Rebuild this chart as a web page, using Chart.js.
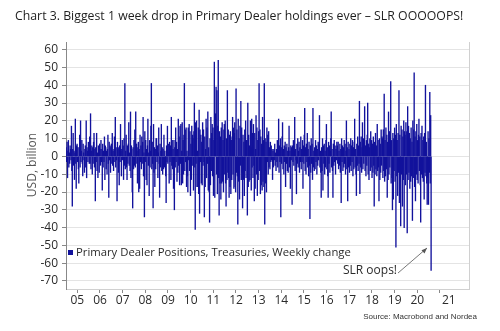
<!DOCTYPE html>
<html lang="en">
<head>
<meta charset="UTF-8">
<title>Primary Dealer holdings</title>
<style>
    html, body { margin: 0; padding: 0; background: #fff; }
    #wrap { position: relative; width: 500px; height: 331px; }
</style>
</head>
<body>
<div id="wrap"><canvas id="myChart" width="500" height="331"></canvas></div>

<script src="https://cdn.jsdelivr.net/npm/chart.js"></script>
<script>
    // weekly change in primary dealer Treasury positions, USD bn
    const w2005 = [5, -3, 8, -12, 3, 9, -6, 2, -4, 6, 4, -2, 17, -8, -28, 4, 13, -5, 3, -13, 2, 21, -4, -18, 6, 7, -3, 5, -7, -15, 5, 12, -6, 20, -3, 3, 9, -4, -11, 7, 2, -2, -9, 4, 6, -6, 20, -12, 5, 3, -3, 8];
    const w2006 = [6, -4, 11, -4, 24, -7, 3, 6, -10, 5, -4, 8, 13, -6, 4, -25, 5, -3, 13, -8, 2, -12, 6, 2, -9, 7, 4, -5, 9, -3, 4, -19, 7, -6, 3, -3, 11, -13, 6, 5, -7, 3, -10, 4, 12, -4, -23, 8, -2, 6, -9, 5];
    const w2007 = [7, -4, 13, -5, 3, -8, 4, 11, -3, 22, -6, 5, -2, -25, 8, 4, -9, 5, -16, 6, -3, 18, 3, -11, 4, 9, -2, 6, -13, 10, -5, 41, -7, 3, 12, -6, -13, 6, -4, 7, 19, -5, 2, -8, 25, -12, 6, 4, -20, -29, 5, -7];
    const w2008 = [9, -5, 15, -6, 25, -4, 7, 3, -15, 5, 8, -20, 4, -18, 12, -3, 6, -7, 11, -4, 8, 22, -11, 2, -34, 14, -3, 9, -13, 4, -16, 6, 21, -5, 2, -22, 9, -6, 3, 17, 41, -7, 8, -4, -29, 18, -9, 5, -17, 4, -7, 10];
    const w2009 = [10, -3, 6, -12, 2, 16, -4, -23, 7, -6, 3, 18, -8, 5, -10, 4, -7, 12, -6, 3, -5, -11, -26, 6, -3, 17, -4, 7, 2, -15, 8, -3, 6, -13, 22, -5, 9, -7, 4, -18, 9, -30, 5, -6, 16, -3, 8, -14, 4, -9, 21, -5];
    const w2010 = [11, -16, 17, -4, 18, -16, 3, 19, -15, 9, -10, 12, 41, -8, 15, -3, 16, -17, 3, -11, -20, 16, -2, 18, -8, 14, -22, 7, -13, 17, -5, 12, 10, -19, 14, 30, -6, -41, 19, -4, 20, -17, 3, -17, 16, -21, 26, -32, 15, -3, 12, -15];
    const w2011 = [8, -16, 19, -5, 15, -3, -34, 11, -17, 4, 21, -12, 16, -4, 25, -19, 5, -20, -37, 10, -16, 22, -8, 13, 18, -11, 16, -22, 9, 53, -23, 14, 24, 39, -10, 37, -21, 17, 54, -12, -33, 14, -15, 11, -24, 16, -15, 19, -14, 9, -20, 15];
    const w2012 = [18, -10, 20, -15, -28, 10, -13, 37, -9, 15, -12, -23, 12, -17, 14, -21, 9, -13, 11, 22, -10, 16, -18, 13, 19, -17, -20, 38, -9, 15, -11, -38, 21, -14, 10, -24, 17, -5, 31, -13, 16, -9, -29, 12, -13, 8, -22, 15, -8, 20, -12, 9];
    const w2013 = [9, -33, 30, -17, 12, -14, 6, -13, 20, 5, -19, 21, -6, 13, -12, 18, -5, -25, 13, -18, 4, 23, -10, 16, -22, 9, -13, 14, 41, -8, 15, -21, 11, -16, 7, -19, 22, -14, 9, -17, 41, -38, 10, -15, 8, -20, 16, -3, 12, -10, 14, -6];
    const w2014 = [5, -7, 8, -3, 6, -2, 4, -13, 3, -6, 4, -2, 7, -5, 2, -8, 4, -3, 9, -6, 4, 21, -9, 6, -3, 10, -34, 5, -4, 11, 19, -7, 4, -10, 6, -3, 8, -17, 5, -4, 7, -8, 3, -9, 5, 17, -6, 3, -18, 6, -2, 5];
    const w2015 = [-27, 6, -3, 9, -5, 3, 22, -8, 4, -2, -21, 7, -4, 10, -6, 3, 8, -9, 5, -3, 11, -7, 4, -3, 9, -18, 6, -4, 12, 27, -8, 5, -10, 7, -3, 13, -6, 4, -11, 8, -5, -35, 6, -9, 10, -4, 7, -13, 27, -6, 3, -8];
    const w2016 = [5, -7, 9, -3, 6, -10, 4, -5, 8, -2, 7, 23, -6, 3, -9, -23, 5, -8, 10, -19, 6, -4, 7, -10, 3, -6, 9, 18, -7, 5, -11, -23, 8, -4, 6, -9, 3, 10, 25, -6, 4, -8, -23, 7, -5, 9, -3, 6, -10, 4, -2, 8];
    const w2017 = [6, -4, 8, -7, 3, -5, 7, -9, 4, -26, 10, -3, 6, -8, 5, -6, 9, -4, 7, -10, 3, 20, -7, 5, -25, 8, -6, 4, -9, 7, -5, 10, -8, 6, -3, 9, -11, 5, -7, 8, 21, -6, 4, -10, -22, 7, -5, 11, -8, 6, -4, 31];
    const w2018 = [-21, 8, -6, 11, -9, 5, 19, -7, 10, -4, 7, 28, -8, 6, -11, 9, -5, 12, 30, -10, 7, -13, 5, 10, -8, 14, -6, 9, -12, 7, -9, 11, -5, -28, 8, -10, 13, -7, 6, -11, 18, -8, 9, -6, -25, 10, -13, 7, -9, 15, -5, 11];
    const w2019 = [10, -12, 15, -8, 35, -14, 9, -11, 16, -7, 12, -23, 8, -13, 25, -10, 14, -6, 11, 42, -15, 9, -12, -30, 13, -24, 10, -8, 16, -14, 12, -51, 18, -11, 9, -22, 13, -9, 37, -26, 12, -14, -39, 17, -10, 15, -28, 11, -13, 20, -40, 14];
    const w2020 = [12, -16, 19, -10, 14, -43, 28, -13, 17, -9, 13, -18, 10, -14, 16, -11, 8, -36, 20, -12, 15, 47, -17, 11, -25, 14, -10, 18, -13, 9, -15, 12, 21, -8, 11, -16, -37, 13, -10, 17, -12, 9, -14, 11, -24, 13, -9, 40, -11, 8, -15, -27];
    const w2021 = [-12, 14, -27, 10, -9, 36, -15, 23, -64];

    const yearLabels = ['05', '06', '07', '08', '09', '10', '11', '12', '13', '14', '15', '16', '17', '18', '19', '20', '21'];
    const yTickValues = [60, 50, 40, 30, 20, 10, 0, -10, -20, -30, -40, -50, -60, -70];
    const firstYear = 2005;
    const xMax = 2022.78;

    const weekly = [].concat(w2005, w2006, w2007, w2008, w2009, w2010, w2011, w2012,
        w2013, w2014, w2015, w2016, w2017, w2018, w2019, w2020, w2021);
    const points = weekly.map((v, i) => ({ x: firstYear + (i + 0.5) * 7 / 365.25, y: v }));

    const navy = '#12129c';
    const txt = '#2b2b2b';

    const decor = {
        id: 'decor',
        beforeDraw(chart) {
            const c = chart.ctx;
            c.save();
            c.fillStyle = '#fff';
            c.fillRect(0, 0, chart.width, chart.height);
            c.restore();
        },
        afterDraw(chart) {
            const c = chart.ctx;
            const a = chart.chartArea;
            const xs = chart.scales.x;
            c.save();

            // right frame line
            c.strokeStyle = '#d0d0d0';
            c.lineWidth = 1;
            c.beginPath();
            c.moveTo(Math.round(a.right) + 0.5, a.top);
            c.lineTo(Math.round(a.right) + 0.5, a.bottom);
            c.stroke();

            // title
            c.fillStyle = '#1e1e1e';
            c.font = '12.3px "Open Sans", sans-serif';
            c.textBaseline = 'middle';
            c.textAlign = 'left';
            c.fillText('Chart 3. Biggest 1 week drop in Primary Dealer holdings ever \u2013 SLR OOOOOPS!', 15, 16);

            // y title
            c.save();
            c.translate(33, 165);
            c.rotate(-Math.PI / 2);
            c.textAlign = 'center';
            c.fillStyle = '#555';
            c.font = '12px "Open Sans", sans-serif';
            c.fillText('USD, billion', 0, 0);
            c.restore();

            // year labels between the ticks
            c.fillStyle = txt;
            c.font = '12px "Open Sans", sans-serif';
            c.textAlign = 'center';
            yearLabels.forEach((lab, i) => {
                const yr = firstYear + i;
                const mid = i === yearLabels.length - 1 ? (yr + xMax) / 2 : yr + 0.5;
                c.fillText(lab, xs.getPixelForValue(mid), 301);
            });

            // legend inside the plot
            c.fillStyle = navy;
            c.fillRect(68, 250, 5, 5);
            c.fillStyle = txt;
            c.textAlign = 'left';
            c.font = '11.3px "Open Sans", sans-serif';
            c.fillText('Primary Dealer Positions, Treasuries, Weekly change', 76, 252.5);

            // annotation
            c.font = '12px "Open Sans", sans-serif';
            c.fillText('SLR oops!', 343, 271);
            c.strokeStyle = '#555';
            c.fillStyle = '#555';
            c.lineWidth = 0.8;
            c.beginPath();
            c.moveTo(398, 273);
            c.lineTo(427, 248);
            c.stroke();
            c.beginPath();
            c.moveTo(427, 248);
            c.lineTo(421.5, 250.2);
            c.lineTo(424.5, 253.6);
            c.closePath();
            c.fill();

            // source
            c.fillStyle = '#333';
            c.font = '8px "Liberation Sans", sans-serif';
            c.textAlign = 'right';
            c.fillText('Source: Macrobond and Nordea', 477, 317);

            c.restore();
        }
    };

    new Chart(document.getElementById('myChart'), {
        type: 'bar',
        data: {
            datasets: [{
                label: 'Primary Dealer Positions, Treasuries, Weekly change',
                data: points,
                backgroundColor: navy,
                borderWidth: 0,
                barThickness: 0.7
            }]
        },
        options: {
            responsive: false,
            animation: false,
            devicePixelRatio: 1,
            layout: { padding: { left: 0, right: 31, top: 42, bottom: 0 } },
            plugins: {
                legend: { display: false },
                tooltip: { enabled: false }
            },
            scales: {
                x: {
                    type: 'linear',
                    min: firstYear,
                    max: xMax,
                    offset: false,
                    afterBuildTicks: s => { s.ticks = yearLabels.map((l, i) => ({ value: firstYear + i })); },
                    afterFit: s => { s.height = 42; },
                    ticks: { display: false },
                    grid: { drawOnChartArea: false, tickLength: 4, tickColor: '#888' },
                    border: { color: '#d0d0d0' }
                },
                y: {
                    min: -74.5,
                    max: 64.3,
                    afterBuildTicks: s => { s.ticks = yTickValues.map(v => ({ value: v })); },
                    afterFit: s => { s.width = 66; },
                    ticks: {
                        color: txt,
                        padding: 4,
                        font: { family: 'Open Sans', size: 12 }
                    },
                    grid: { color: '#e4e4e4', tickLength: 4, tickColor: '#888' },
                    border: { color: '#888' }
                }
            }
        },
        plugins: [decor]
    });
</script>
</body>
</html>
